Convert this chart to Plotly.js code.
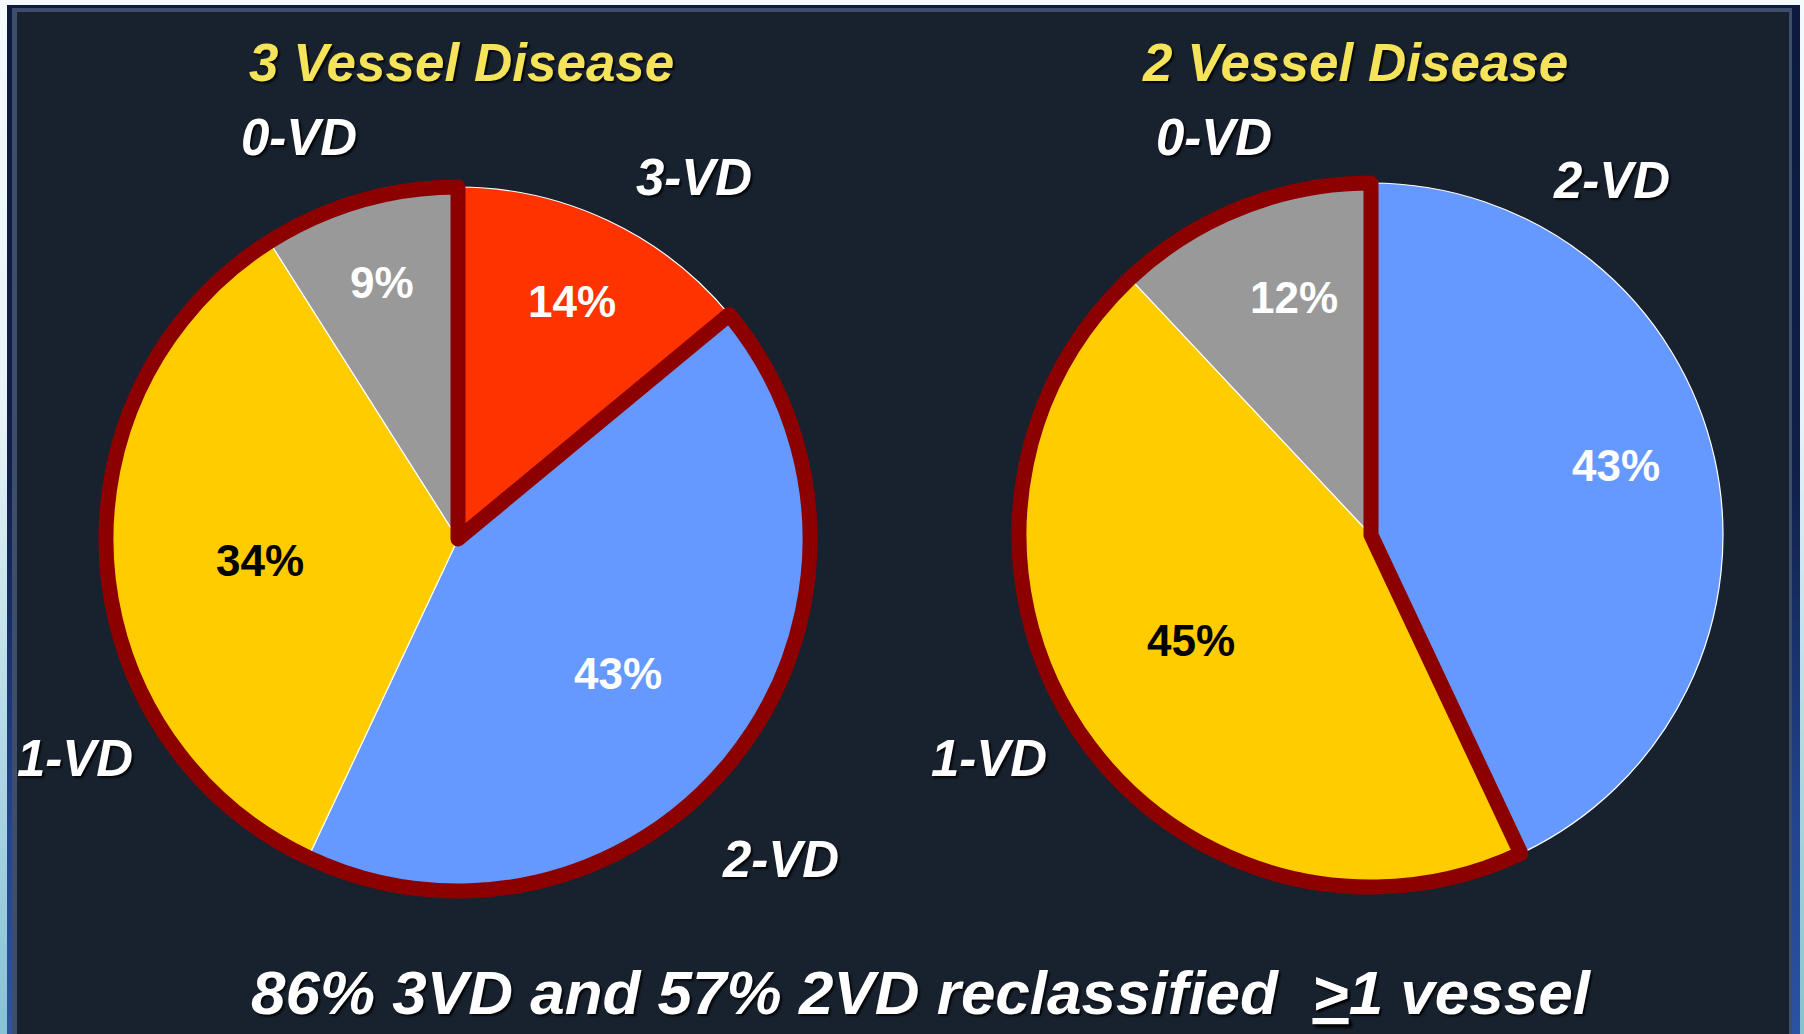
<!DOCTYPE html>
<html>
<head>
<meta charset="utf-8">
<script src="https://cdn.plot.ly/plotly-3.0.1.min.js"></script>
<style>
  html, body { margin: 0; padding: 0; width: 1804px; height: 1034px; overflow: hidden; background: #f3f9fc; }
  #lstrip { position: absolute; left: 0; top: 0; width: 7px; height: 1034px;
    background: linear-gradient(to bottom, #f4fafd 0%, #e8f3f8 40%, #b5dbe5 70%, #86c2d2 100%); }
  #rstrip { position: absolute; left: 1800px; top: 0; width: 4px; height: 1034px;
    background: linear-gradient(to bottom, #f4fafd 0%, #e8f3f8 40%, #b5dbe5 70%, #86c2d2 100%); }
  #frame { position: absolute; left: 7px; top: 5px; width: 1793px; height: 1029px;
    background: linear-gradient(to bottom, #0b1a3e 0%, #0f1f48 45%, #23448f 80%, #2c52a2 100%); }
  #line { position: absolute; left: 12px; top: 8px; width: 1780px; height: 1026px; background: #3d4d6a; }
  #bg { position: absolute; left: 17px; top: 12px; width: 1772px; height: 1022px; background: #18212e; }
  #chart { position: absolute; left: 0; top: 0; width: 1804px; height: 1034px; }
</style>
</head>
<body>
<div id="lstrip"></div>
<div id="rstrip"></div>
<div id="frame"></div>
<div id="line"></div>
<div id="bg"></div>
<div id="chart"></div>
<script>
// ---- data ----
const cats3VD = ['3-VD', '2-VD', '1-VD', '0-VD'];
const vals3VD = [14, 43, 34, 9];
const cats2VD = ['2-VD', '1-VD', '0-VD'];
const vals2VD = [43, 45, 12];
const title3VD = '3 Vessel Disease';
const title2VD = '2 Vessel Disease';
const footnote = '86% 3VD and 57% 2VD reclassified\u00a0\u00a0<u>&gt;</u>1 vessel';

// ---- styles ----
const COLORS = { '3-VD': '#ff3300', '2-VD': '#6699ff', '1-VD': '#ffcc00', '0-VD': '#999999' };
const TEXTCOL = { '3-VD': '#ffffff', '2-VD': '#ffffff', '1-VD': '#000000', '0-VD': '#ffffff' };
const OUTLINE = '#8c0000';
const FONT = '"Liberation Sans", Arial, sans-serif';

const W = 1804, H = 1034;
const px = x => x / W;
const py = y => 1 - y / H;
function dom(g) {
  return { x: [px(g.cx - g.r), px(g.cx + g.r)], y: [py(g.cy + g.r), py(g.cy - g.r)] };
}
// pie geometry (pixels)
const GL = { cx: 458, cy: 539, r: 352 };
const GR = { cx: 1371, cy: 535, r: 352 };
// where the percentage and category labels sit (pixels), per category
const PCT_POS_L = { '3-VD': [572, 301], '2-VD': [618, 673], '1-VD': [260, 560], '0-VD': [382, 282] };
const PCT_POS_R = { '2-VD': [1616, 466], '1-VD': [1191, 640], '0-VD': [1294, 297] };
const LBL_POS_L = { '3-VD': [694, 177], '2-VD': [780, 859], '1-VD': [75, 758], '0-VD': [299, 138] };
const LBL_POS_R = { '2-VD': [1611, 180], '1-VD': [989, 758], '0-VD': [1214, 138] };

function basePie(cats, vals, g) {
  return {
    type: 'pie', labels: cats, values: vals, sort: false, direction: 'clockwise', rotation: 0,
    marker: { colors: cats.map(c => COLORS[c]), line: { color: '#ffffff', width: 1.2 } },
    textinfo: 'none', domain: dom(g), showlegend: false, hoverinfo: 'label+percent'
  };
}
// outline around every slice except the "kept" category (the reclassified share)
function outlinePie(cats, vals, keep, g) {
  const keptVal = vals[cats.indexOf(keep)];
  const rest = vals.reduce((a, b) => a + b, 0) - keptVal;
  return {
    type: 'pie', labels: [keep, 'reclassified'], values: [keptVal, rest], sort: false,
    direction: 'clockwise', rotation: 0,
    marker: { colors: ['rgba(0,0,0,0)', 'rgba(0,0,0,0)'],
              line: { color: ['rgba(0,0,0,0)', OUTLINE], width: [0, 15] } },
    textinfo: 'none', hoverinfo: 'skip', domain: dom(g), showlegend: false
  };
}

const data = [
  basePie(cats3VD, vals3VD, GL),
  outlinePie(cats3VD, vals3VD, '3-VD', GL),
  basePie(cats2VD, vals2VD, GR),
  outlinePie(cats2VD, vals2VD, '2-VD', GR)
];

const labelFont = { family: FONT, size: 51, weight: 'bold', style: 'italic', color: '#ffffff',
                    shadow: '2px 2px 2px rgba(0,0,0,0.8)' };
function ann(text, x, y, font) {
  return { text: text, x: px(x), y: py(y), xref: 'paper', yref: 'paper',
           xanchor: 'center', yanchor: 'middle', showarrow: false, font: font };
}
function pctAnns(cats, vals, pos) {
  const total = vals.reduce((a, b) => a + b, 0);
  return cats.map((c, i) => ann(Math.round(vals[i] / total * 100) + '%', pos[c][0], pos[c][1],
    { family: FONT, size: 44, weight: 'bold', color: TEXTCOL[c] }));
}
function lblAnns(cats, pos) {
  return cats.map(c => ann(c, pos[c][0], pos[c][1], labelFont));
}
const annotations = [
  ann(title3VD, 461, 63, Object.assign({}, labelFont, { size: 53, color: '#f5e35a' })),
  ann(title2VD, 1355, 63, Object.assign({}, labelFont, { size: 53, color: '#f5e35a' })),
  ...lblAnns(cats3VD, LBL_POS_L),
  ...lblAnns(cats2VD, LBL_POS_R),
  ...pctAnns(cats3VD, vals3VD, PCT_POS_L),
  ...pctAnns(cats2VD, vals2VD, PCT_POS_R),
  ann(footnote, 921, 992, Object.assign({}, labelFont, { size: 62 }))
];

const layout = {
  width: W, height: H, margin: { l: 0, r: 0, t: 0, b: 0, pad: 0 },
  paper_bgcolor: 'rgba(0,0,0,0)', plot_bgcolor: 'rgba(0,0,0,0)',
  showlegend: false, annotations: annotations
};
Plotly.newPlot('chart', data, layout, { displayModeBar: false, staticPlot: true });
</script>
</body>
</html>
